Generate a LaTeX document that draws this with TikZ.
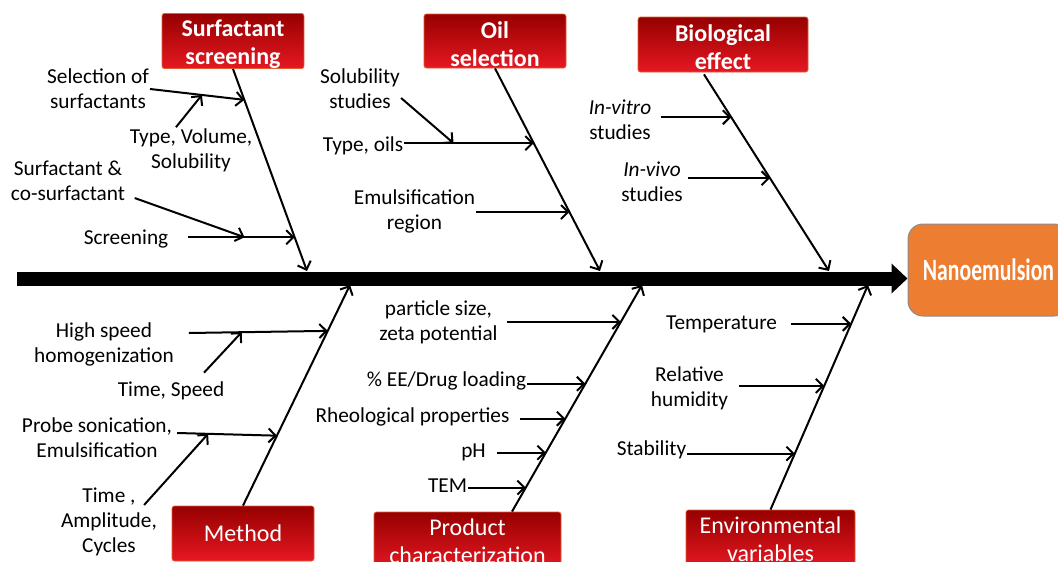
\documentclass[tikz,border=0pt]{standalone}
\usepackage{fontspec}
\setmainfont{Carlito}
\usepackage{graphicx}
\usepackage{tikz}
\usetikzlibrary{arrows.meta,positioning,calc}
\definecolor{headdark}{RGB}{150,0,0}
\definecolor{headlight}{RGB}{230,24,34}
\definecolor{headedge}{RGB}{228,92,52}
\definecolor{nanoorange}{RGB}{237,125,49}
\definecolor{nanoedge}{RGB}{140,140,140}
\tikzset{
  headbox/.style={draw=headedge,line width=0.8pt,rounded corners=2.5pt,top color=headdark,
                  bottom color=headlight,text=white,align=center,inner sep=0pt,
                  font=\fontsize{24}{28}\selectfont},
  tophead/.style={headbox,font=\fontsize{24}{28}\selectfont\bfseries,text height=51pt},
  cause/.style={align=center,inner sep=1pt,font=\fontsize{21.3}{25}\selectfont},
  bone/.style={line width=2pt,-{Straight Barb[length=7pt,width=14pt]}},
  spine/.style={line width=14pt,-{Triangle[length=16pt,width=29pt]}},
  nanobox/.style={draw=nanoedge,line width=1pt,fill=nanoorange,rounded corners=15pt,text=white,
                  minimum width=161pt,minimum height=92pt,font=\fontsize{31}{31}\selectfont\bfseries}
}

\begin{document}
\begin{tikzpicture}[x=1pt,y=-1pt]
  \useasboundingbox (0,0) rectangle (1058,562);
  \node[nanobox] (nano) at (988.5,270) {\scalebox{0.7}[1]{Nanoemulsion}};
  \coordinate (tail) at (17,278.5);
  \draw[spine] (tail) -- (tail -| nano.west);

  \node[tophead,minimum width=142pt,minimum height=54pt] (surf) at (233,41) {Surfactant\\screening};
  \node[tophead,minimum width=142pt,minimum height=54pt] (oil) at (495,41) {Oil\\selection};
  \node[tophead,minimum width=170pt,minimum height=55pt] (bio) at (723,44.5) {Biological\\effect};
  \node[headbox,minimum width=142pt,minimum height=55pt] (meth) at (243,533.5) {Method};
  \node[headbox,minimum width=187pt,minimum height=58pt] (prod) at (467.5,541) {Product\\characterization};
  \node[headbox,minimum width=169pt,minimum height=58pt] (env) at (770.5,539) {Environmental\\variables};

  \node[cause] (sel) at (98,89) {Selection of\\surfactants};
  \node[cause] (tvs) at (191,150) {Type, Volume,\\Solubility};
  \node[cause] (surfco) at (68,181) {Surfactant \&\\co-surfactant};
  \node[cause] (scr) at (126,239) {Screening};
  \node[cause] (sol) at (360,89) {Solubility\\studies};
  \node[cause] (toil) at (363,146) {Type, oils};
  \node[cause] (emreg) at (414.5,211) {Emulsification\\region};
  \node[cause] (vitro) at (620,120) {\textit{In-vitro}\\studies};
  \node[cause] (vivo) at (652,182) {\textit{In-vivo}\\studies};
  \node[cause] (hsh) at (104,344) {High speed\\homogenization};
  \node[cause] (tsp) at (171,391) {Time, Speed};
  \node[cause] (probe) at (97,438) {Probe sonication,\\Emulsification};
  \node[cause] (tac) at (109,522) {Time ,\\Amplitude,\\Cycles};
  \node[cause] (psz) at (438.5,322) {particle size,\\zeta potential};
  \node[cause] (ee) at (446.5,381) {\% EE/Drug loading};
  \node[cause] (rheo) at (412.5,417) {Rheological properties};
  \node[cause] (ph) at (473.5,452) {pH};
  \node[cause] (tem) at (447.5,486) {TEM};
  \node[cause] (temp) at (721.5,324) {Temperature};
  \node[cause] (rh) at (689.5,388) {Relative\\humidity};
  \node[cause] (stab) at (651.5,450) {Stability};

  \coordinate (sb) at (307,271);
  \coordinate (ob) at (600,271);
  \coordinate (bb0) at ([xshift=-19pt,yshift=-2pt]bio.south);
  \coordinate (bb) at (829,271);
  \coordinate (mb) at (350,285);
  \coordinate (pb0) at ([xshift=44.5pt]prod.north);
  \coordinate (pb) at (642,285);
  \coordinate (eb) at (868,285);

  \draw[bone] (surf.south) -- (sb) coordinate[pos=.153] (s1) coordinate[pos=.833] (s2);
  \draw[bone] (oil.south) -- (ob) coordinate[pos=.369] (o1) coordinate[pos=.709] (o2);
  \draw[bone] (bb0) -- (bb) coordinate[pos=.218] (b1) coordinate[pos=.528] (b2);
  \draw[bone] (meth.north) -- (mb) coordinate[pos=.792] (m1) coordinate[pos=.317] (m2);
  \draw[bone] (pb0) -- (pb) coordinate[pos=.837] (p1) coordinate[pos=.564] (p2) coordinate[pos=.41] (p3)
    coordinate[pos=.26] (p4) coordinate[pos=.106] (p5);
  \draw[bone] (env.north) -- (eb) coordinate[pos=.827] (e1) coordinate[pos=.551] (e2) coordinate[pos=.249] (e3);

  \draw[bone] (sel.east) -- (s1) coordinate[pos=.55] (s1m);
  \draw[bone] ([xshift=-15pt]tvs.north) -- (s1m);
  \draw[bone,shorten <=19pt] (scr.east |- s2) -- (s2) coordinate[pos=.6] (s2m);
  \draw[bone,shorten <=9pt] ([yshift=-14pt]surfco.east) -- (s2m);

  \draw[bone] (toil.east |- o1) -- (o1) coordinate[pos=.38] (o1m);
  \draw[bone] ([yshift=-9pt]sol.east) -- (o1m);
  \draw[bone] (emreg.east |- o2) -- (o2);

  \draw[bone,shorten <=9pt] (vitro.east |- b1) -- (b1);
  \draw[bone,shorten <=4pt] (vivo.east |- b2) -- (b2);

  \draw[bone] ([xshift=14pt,yshift=11pt]hsh.east) -- (m1) coordinate[pos=.38] (m1m);
  \draw[bone] ([xshift=33pt,yshift=8pt]tsp.north) -- (m1m);
  \draw[bone] ([xshift=4pt,yshift=5pt]probe.east) -- (m2) coordinate[pos=.31] (m2m);
  \draw[bone] ([xshift=-14pt,yshift=17pt]tac.east) -- (m2m);

  \draw[bone,shorten <=8pt] (psz.east |- p1) -- (p1);
  \draw[bone] (ee.east |- p2) -- (p2);
  \draw[bone,shorten <=9pt] (rheo.east |- p3) -- (p3);
  \draw[bone,shorten <=10pt] (ph.east |- p4) -- (p4);
  \draw[bone] (tem.east |- p5) -- (p5);

  \draw[bone,shorten <=13pt] (temp.east |- e1) -- (e1);
  \draw[bone,shorten <=10pt] (rh.east |- e2) -- (e2);
  \draw[bone] (stab.east |- e3) -- (e3);
\end{tikzpicture}
\end{document}
